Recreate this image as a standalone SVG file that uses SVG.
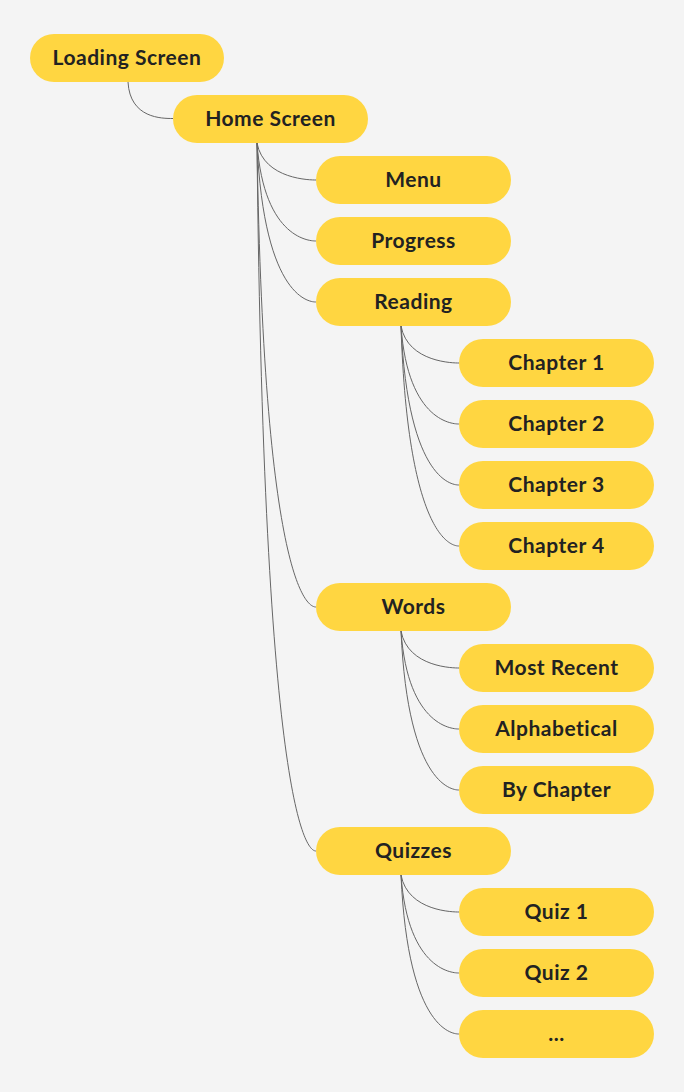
<svg xmlns="http://www.w3.org/2000/svg" width="684" height="1092" viewBox="0 0 684 1092">
<style>
.bg{fill:#F4F4F4}
.node rect{fill:#FFD641}
.node text{font-family:Lato,"Liberation Sans",sans-serif;font-weight:700;font-size:21px;letter-spacing:0.5px;fill:#222222;text-anchor:middle}
.conn path{fill:none;stroke:#666666;stroke-width:1}
</style>
<rect class="bg" x="0" y="0" width="684" height="1092"/>
<g class="conn">
<path d="M128,82 C130,118.5 162,118.5 173,118.5"/>
<path d="M257,143 C264,180 312,180 316,180"/>
<path d="M257,143 C264,241 312,241 316,241"/>
<path d="M257,143 C264,302 312,302 316,302"/>
<path d="M257,143 C264,607 312,607 316,607"/>
<path d="M257,143 C264,851 312,851 316,851"/>
<path d="M401,326 C408,363 455,363 459,363"/>
<path d="M401,326 C408,424 455,424 459,424"/>
<path d="M401,326 C408,485 455,485 459,485"/>
<path d="M401,326 C408,546 455,546 459,546"/>
<path d="M401,631 C408,668 455,668 459,668"/>
<path d="M401,631 C408,729 455,729 459,729"/>
<path d="M401,631 C408,790 455,790 459,790"/>
<path d="M401,875 C408,912 455,912 459,912"/>
<path d="M401,875 C408,973 455,973 459,973"/>
<path d="M401,875 C408,1034 455,1034 459,1034"/>
</g>
<g id="loading" class="node"><rect x="30" y="34" width="194" height="48" rx="24"/><text x="127" y="65">Loading Screen</text></g>
<g id="home" class="node"><rect x="173" y="95" width="195" height="48" rx="24"/><text x="270.5" y="126">Home Screen</text></g>
<g id="menu" class="node"><rect x="316" y="156" width="195" height="48" rx="24"/><text x="413.5" y="187">Menu</text></g>
<g id="progress" class="node"><rect x="316" y="217" width="195" height="48" rx="24"/><text x="413.5" y="248">Progress</text></g>
<g id="reading" class="node"><rect x="316" y="278" width="195" height="48" rx="24"/><text x="413.5" y="309">Reading</text></g>
<g id="chapter1" class="node"><rect x="459" y="339" width="195" height="48" rx="24"/><text x="556.5" y="370">Chapter 1</text></g>
<g id="chapter2" class="node"><rect x="459" y="400" width="195" height="48" rx="24"/><text x="556.5" y="431">Chapter 2</text></g>
<g id="chapter3" class="node"><rect x="459" y="461" width="195" height="48" rx="24"/><text x="556.5" y="492">Chapter 3</text></g>
<g id="chapter4" class="node"><rect x="459" y="522" width="195" height="48" rx="24"/><text x="556.5" y="553">Chapter 4</text></g>
<g id="words" class="node"><rect x="316" y="583" width="195" height="48" rx="24"/><text x="413.5" y="614">Words</text></g>
<g id="mostrecent" class="node"><rect x="459" y="644" width="195" height="48" rx="24"/><text x="556.5" y="675">Most Recent</text></g>
<g id="alphabetical" class="node"><rect x="459" y="705" width="195" height="48" rx="24"/><text x="556.5" y="736">Alphabetical</text></g>
<g id="bychapter" class="node"><rect x="459" y="766" width="195" height="48" rx="24"/><text x="556.5" y="797">By Chapter</text></g>
<g id="quizzes" class="node"><rect x="316" y="827" width="195" height="48" rx="24"/><text x="413.5" y="858">Quizzes</text></g>
<g id="quiz1" class="node"><rect x="459" y="888" width="195" height="48" rx="24"/><text x="556.5" y="919">Quiz 1</text></g>
<g id="quiz2" class="node"><rect x="459" y="949" width="195" height="48" rx="24"/><text x="556.5" y="980">Quiz 2</text></g>
<g id="more" class="node"><rect x="459" y="1010" width="195" height="48" rx="24"/><text x="556.5" y="1041">...</text></g>
</svg>
